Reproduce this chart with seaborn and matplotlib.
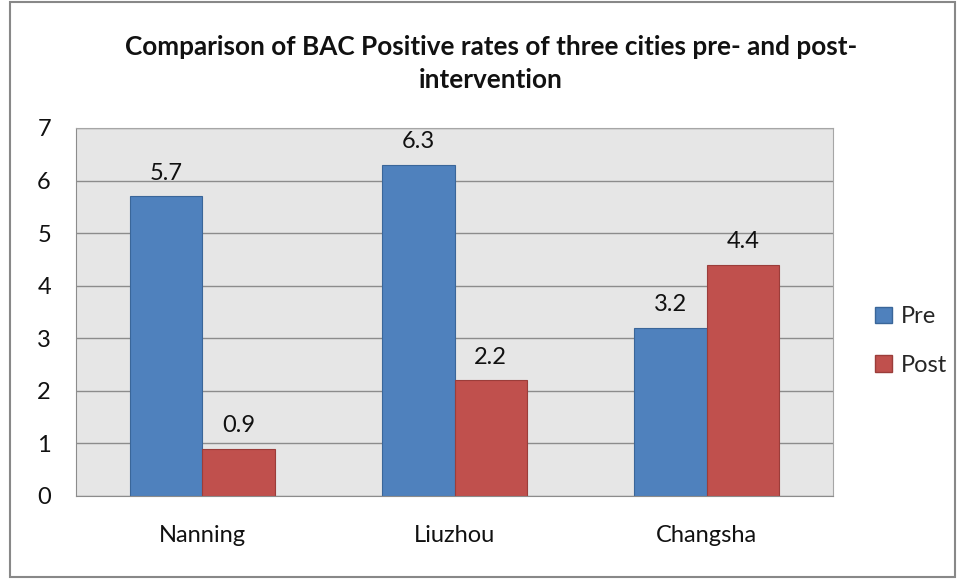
import pandas as pd
import matplotlib.pyplot as plt
import matplotlib.patches as mpatches
import seaborn as sns

# chart data
cities = ["Nanning", "Liuzhou", "Changsha"]
pre = [5.7, 6.3, 3.2]
post = [0.9, 2.2, 4.4]
series = ["Pre", "Post"]
colors = ["#4F81BD", "#C0504D"]
edges = ["#3A6699", "#9B3D3A"]

df = pd.DataFrame({
    "city": cities * 2,
    "rate": pre + post,
    "period": ["Pre"] * 3 + ["Post"] * 3,
})

sns.set_style("white")
plt.rcParams['font.family'] = ['Lato', 'DejaVu Sans']

fig = plt.figure(figsize=(9.58, 5.79), dpi=100)
ax = fig.add_axes([76 / 958, 83 / 579, 757 / 958, 368 / 579])
ax.set_facecolor("#E6E6E6")

sns.barplot(data=df, x="city", y="rate", hue="period", hue_order=series,
            palette=colors, saturation=1, width=0.575, gap=0, ax=ax, legend=False)

for container, ec in zip(ax.containers, edges):
    for bar in container:
        bar.set_edgecolor(ec)
        bar.set_linewidth(0.8)
    ax.bar_label(container, labels=[f"{v:.1f}" for v in container.datavalues],
                 padding=9, fontsize=17, color="#111111")

ax.set_ylim(0, 7)
ax.set_yticks(range(0, 8))
ax.yaxis.grid(True, color="#8C8C8C", linewidth=1)
ax.set_axisbelow(True)
ax.tick_params(axis="both", length=0, labelsize=17, colors="#111111")
ax.tick_params(axis="x", pad=21)
ax.tick_params(axis="y", pad=18)
ax.set_xlabel("")
ax.set_ylabel("")
for side in ["top", "right"]:
    ax.spines[side].set_color("#A6A6A6")
for side in ["left", "bottom"]:
    ax.spines[side].set_color("#8C8C8C")

fig.text(491 / 958, 1 - 47 / 579, "Comparison of BAC Positive rates of three cities pre- and post-",
         ha="center", va="center", fontsize=18.8, fontweight="bold", color="#111111")
fig.text(491 / 958, 1 - 80 / 579, "intervention",
         ha="center", va="center", fontsize=18.8, fontweight="bold", color="#111111")

handles = [mpatches.Patch(facecolor=c, edgecolor=e, label=s) for c, e, s in zip(colors, edges, series)]
fig.legend(handles=handles, loc="center left", bbox_to_anchor=(854 / 958, 1 - 341 / 579),
           frameon=False, fontsize=17, handlelength=0.7, handleheight=0.7,
           handletextpad=0.4, labelspacing=1.15)

fig.patches.append(mpatches.Rectangle((10 / 958, 2 / 579), 945 / 958, 575 / 579,
                                      transform=fig.transFigure, fill=False,
                                      edgecolor="#888888", linewidth=1.5))

plt.savefig("out.png", dpi=100)
